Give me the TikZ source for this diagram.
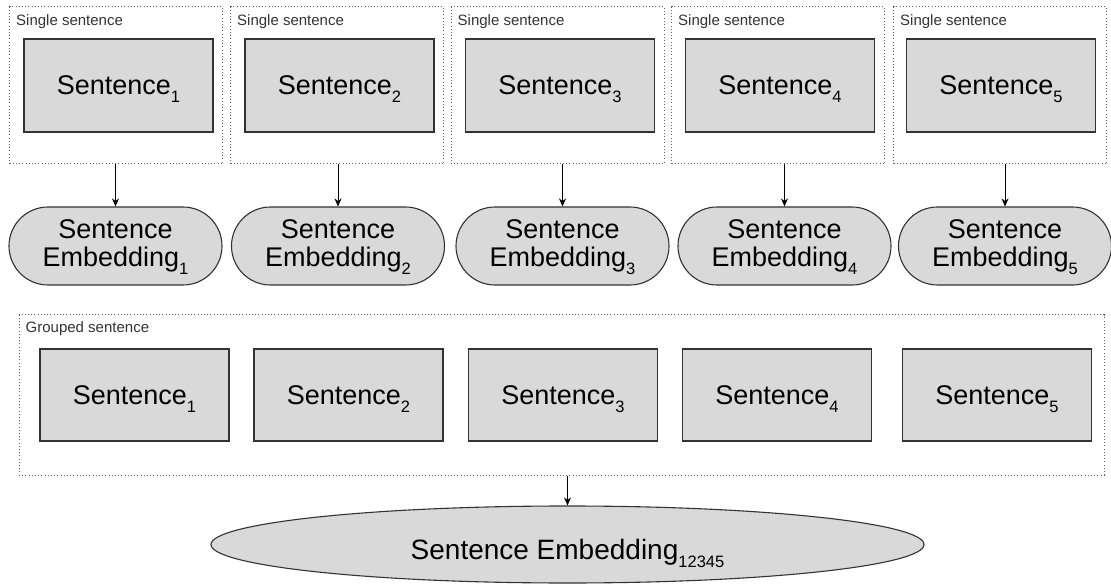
\documentclass[tikz,border=0pt]{standalone}
\usepackage{fontspec}
\setmainfont{Liberation Sans}
\usepackage{tikz}
\usetikzlibrary{arrows.meta,shapes.geometric}

\definecolor{boxgray}{HTML}{D9D9D9}
\definecolor{edgegray}{HTML}{333333}
\definecolor{dotgray}{HTML}{606060}

\newcommand{\idx}[1]{\raisebox{-8pt}[0pt][0pt]{\fontsize{16.5}{17}\selectfont #1}}

\tikzset{
    singlebox/.style={draw=dotgray, line width=1pt, dash pattern=on 1pt off 2.2pt, minimum width=213pt, minimum height=157pt, inner sep=0pt},
    groupbox/.style={draw=dotgray, line width=1pt, dash pattern=on 1pt off 2.2pt, minimum width=1085pt, minimum height=160pt, inner sep=0pt},
    boxlabel/.style={anchor=west, inner sep=0pt, font=\fontsize{15}{16}\selectfont, text=black!80},
    sentbox/.style={draw=edgegray, fill=boxgray, line width=1.3pt, minimum width=189pt, minimum height=93pt, inner sep=0pt, font=\fontsize{27}{30}\selectfont},
    embpill/.style={draw=edgegray, fill=boxgray, line width=1.1pt, rounded corners=39pt, minimum width=213pt, minimum height=78pt, inner sep=0pt, align=center, font=\fontsize{27}{28}\selectfont},
    bigemb/.style={ellipse, draw=edgegray, fill=boxgray, line width=1.1pt, minimum width=713pt, minimum height=77pt, inner sep=0pt, text height=34pt, text depth=5pt, font=\fontsize{28}{30}\selectfont},
    arrowline/.style={-{Stealth[length=8pt,width=7pt]}, line width=1pt, black}
}

\begin{document}
\begin{tikzpicture}[x=1pt,y=-1pt]
        \useasboundingbox (0,0) rectangle (1111,585);
        % single sentences
        \node[singlebox] (b1) at (116,85.5) {};
        \node[singlebox] (b2) at (337,85.5) {};
        \node[singlebox] (b3) at (557.5,85.5) {};
        \node[singlebox] (b4) at (778,85.5) {};
        \node[singlebox] (b5) at (1000,85.5) {};
        \node[boxlabel] (l1) at ([shift={(7,15)}]b1.north west) {Single sentence};
        \node[boxlabel] (l2) at ([shift={(7,15)}]b2.north west) {Single sentence};
        \node[boxlabel] (l3) at ([shift={(7,15)}]b3.north west) {Single sentence};
        \node[boxlabel] (l4) at ([shift={(7,15)}]b4.north west) {Single sentence};
        \node[boxlabel] (l5) at ([shift={(7,15)}]b5.north west) {Single sentence};
        \node[sentbox] (s1) at (118.5,85.5) {Sentence\idx{1}};
        \node[sentbox] (s2) at (339.5,85.5) {Sentence\idx{2}};
        \node[sentbox] (s3) at (560,85.5) {Sentence\idx{3}};
        \node[sentbox] (s4) at (780,85.5) {Sentence\idx{4}};
        \node[sentbox] (s5) at (1001,85.5) {Sentence\idx{5}};
        % one embedding per sentence
        \node[embpill] (e1) at (115.5,246) {Sentence\\Embedding\idx{1}};
        \node[embpill] (e2) at (338,246) {Sentence\\Embedding\idx{2}};
        \node[embpill] (e3) at (562.5,246) {Sentence\\Embedding\idx{3}};
        \node[embpill] (e4) at (784.5,246) {Sentence\\Embedding\idx{4}};
        \node[embpill] (e5) at (1005,246) {Sentence\\Embedding\idx{5}};
        \draw [arrowline] (b1.south -| e1.north) -- (e1.north);
        \draw [arrowline] (b2.south -| e2.north) -- (e2.north);
        \draw [arrowline] (b3.south -| e3.north) -- (e3.north);
        \draw [arrowline] (b4.south -| e4.north) -- (e4.north);
        \draw [arrowline] (b5.south -| e5.north) -- (e5.north);
        % grouped sentence
        \node[groupbox] (group) at (561.5,395) {};
        \node[boxlabel] (lg) at ([shift={(7,14)}]group.north west) {Grouped sentence};
        \node[sentbox, minimum height=92pt] (g1) at (134.5,395) {Sentence\idx{1}};
        \node[sentbox, minimum height=92pt] (g2) at (348.5,395) {Sentence\idx{2}};
        \node[sentbox, minimum height=92pt] (g3) at (563,395) {Sentence\idx{3}};
        \node[sentbox, minimum height=92pt] (g4) at (777,395) {Sentence\idx{4}};
        \node[sentbox, minimum height=92pt] (g5) at (997,395) {Sentence\idx{5}};
        \node[bigemb] (all) at (567.5,544.5) {Sentence Embedding\idx{12345}};
        \draw [arrowline] (group.south -| all.north) -- (all.north);
    \end{tikzpicture}
\end{document}
